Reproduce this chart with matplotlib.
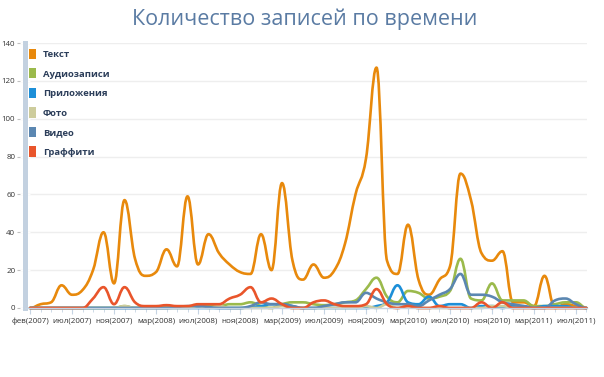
import numpy as np
import matplotlib
matplotlib.use('Agg')
import matplotlib.pyplot as plt
from matplotlib.path import Path
from matplotlib.patches import PathPatch, Patch
from matplotlib.ticker import MultipleLocator

plt.rcParams['font.family'] = ['Open Sans', 'DejaVu Sans']

# monthly points, label every 4th point
months = ['фев(2007)', 'июл(2007)', 'ноя(2007)', 'мар(2008)', 'июл(2008)',
          'ноя(2008)', 'мар(2009)', 'июл(2009)', 'ноя(2009)', 'мар(2010)',
          'июл(2010)', 'ноя(2010)', 'мар(2011)', 'июл(2011)']

text = [0, 2, 3, 12, 7, 9.5, 20, 40, 13, 57,
        26, 17, 19, 31, 22, 59, 23, 39, 29, 23,
        19, 18, 39, 20, 66, 25, 15, 23, 16, 20,
        34, 60, 79, 127, 25, 18, 44, 15, 7, 15,
        22, 71, 57, 29, 25, 30, 3, 3, 1, 17,
        0, 2, 1, 0]
audio = [0, 0, 0, 0, 0, 0, 0, 0, 0, 1,
         0, 0.5, 0.5, 0.5, 0.5, 0.5, 1, 1, 1, 2,
         2, 3, 1, 0, 2, 3, 3, 2, 1.5, 2,
         3, 4, 10, 16, 6, 3, 9, 8, 5, 6,
         9, 26, 5, 4, 13, 4, 4, 4, 1, 1,
         2, 3, 3, 0]
apps = [0, 0, 0, 0, 0, 0, 0, 0, 0, 0,
        0, 0, 0, 0, 0, 0, 0, 0, 0, 0,
        0, 0.5, 1, 2, 2, 1, 0, 0, 0, 0,
        0, 0, 0, 1, 3, 12, 3, 2, 6, 1,
        2, 2, 0, 1, 1, 0, 1, 1, 0, 1,
        1, 1, 0, 0]
photo = [0, 0, 0, 0, 0, 0, 0, 0, 0, 1,
         0, 0, 0, 0, 0, 0, 1, 0, 1, 0,
         0, 0, 0, 0, 1, 0, 0, 0, 0, 0,
         0, 0, 1, 0, 2, 0, 1, 0, 0, 0,
         0, 0, 0, 0, 1, 1, 0, 0, 0, 0,
         0, 0, 0, 0]
video = [0, 0, 0, 0, 0, 0, 0, 0, 0, 0,
         0, 0, 0, 0, 0.5, 1, 1, 0.5, 0, 0,
         0, 1, 3, 2, 2, 1, 0, 0, 1, 2,
         3, 3, 8, 5, 3, 2, 2, 1, 4, 7,
         10, 18, 7, 7, 6, 3, 2, 1, 0, 0,
         4, 5, 2, 0]
graffiti = [0, 0, 0, 0, 0, 0, 5, 11, 2, 11,
            3, 1, 1, 1.5, 1, 1, 2, 2, 2, 5,
            7, 11, 3, 5, 2, 0, 0, 3, 4, 2,
            1, 1, 2, 10, 2, 0, 1, 0, 0, 1,
            0, 0, 0, 3, 0, 3, 0, 0, 0, 0,
            0, 0, 0, 0]

names = ['Текст', 'Аудиозаписи', 'Приложения', 'Фото', 'Видео', 'Граффити']
colors = ['#e8890c', '#9bba4c', '#1d8fd8', '#cdcc9c', '#5b87b1', '#e9552b']
series = [text, audio, apps, photo, video, graffiti]


def spline_path(y):
    # smooth curve through the points (bezier, no false extremes)
    y = np.asarray(y, float)
    n = len(y)
    x = np.arange(n)
    m = np.zeros(n)
    for i in range(1, n - 1):
        if (y[i] - y[i - 1]) * (y[i + 1] - y[i]) <= 0:
            continue
        d = 0.2 * (y[i + 1] - y[i - 1])
        lim = min(abs(y[i + 1] - y[i]), abs(y[i] - y[i - 1]))
        m[i] = np.sign(d) * min(abs(d), lim)
    verts = [(x[0], y[0])]
    codes = [Path.MOVETO]
    for i in range(n - 1):
        verts += [(x[i] + 0.4, y[i] + m[i]),
                  (x[i + 1] - 0.4, y[i + 1] - m[i + 1]),
                  (x[i + 1], y[i + 1])]
        codes += [Path.CURVE4] * 3
    return Path(verts, codes)


fig = plt.figure(figsize=(6.04, 3.77), dpi=100)
ax = fig.add_axes([25 / 604, 1 - 308 / 377, 562 / 604, 265 / 377])

for s, c in zip(series, colors):
    ax.add_patch(PathPatch(spline_path(s), facecolor='none', edgecolor=c,
                           lw=1.9, clip_on=False, capstyle='round',
                           joinstyle='round'))

n = len(text)
ax.set_xlim(-0.48, n - 1 + 0.05)
ax.set_ylim(0, 140)

ax.set_xticks(np.arange(0, n, 4))
ax.set_xticklabels(months)
ax.xaxis.set_minor_locator(MultipleLocator(1))
ax.tick_params(axis='x', which='both', colors='#c6d4e3', labelcolor='#333333',
               labelsize=5.8, pad=3)
ax.tick_params(axis='x', which='major', length=4)
ax.tick_params(axis='x', which='minor', length=3)

ax.set_yticks(np.arange(0, 141, 20))
ax.yaxis.set_minor_locator(MultipleLocator(10))
ax.yaxis.remove_overlapping_locs = False
ax.tick_params(axis='y', which='major', direction='out', length=6,
               color='#c0c0c0', labelsize=5.7, labelcolor='#333333', pad=1)
ax.tick_params(axis='y', which='minor', direction='inout', length=7,
               width=1, color='white')
ax.grid(axis='y', color='#eeeeee', lw=1)
ax.set_axisbelow(True)

for side in ['top', 'right']:
    ax.spines[side].set_visible(False)
ax.spines['left'].set_color('#c3d1e0')
ax.spines['left'].set_linewidth(3.6)
ax.spines['left'].set_zorder(1)
ax.spines['bottom'].set_color('#c6d4e3')
ax.spines['bottom'].set_linewidth(1)

handles = [Patch(facecolor=c, edgecolor='none') for c in colors]
leg = ax.legend(handles, names, loc='upper left', bbox_to_anchor=(0.0, 0.993),
                frameon=False, fontsize=6.8, handlelength=0.75,
                handleheight=1.3, handletextpad=0.75, labelspacing=0.98,
                borderaxespad=0)
for t in leg.get_texts():
    t.set_color('#2c3e5a')
    t.set_fontweight('bold')

fig.text(0.505, 0.948, 'Количество записей по времени', ha='center',
         va='center', fontsize=15.5, color='#5a7ba3')

fig.savefig('out.png', dpi=100)
